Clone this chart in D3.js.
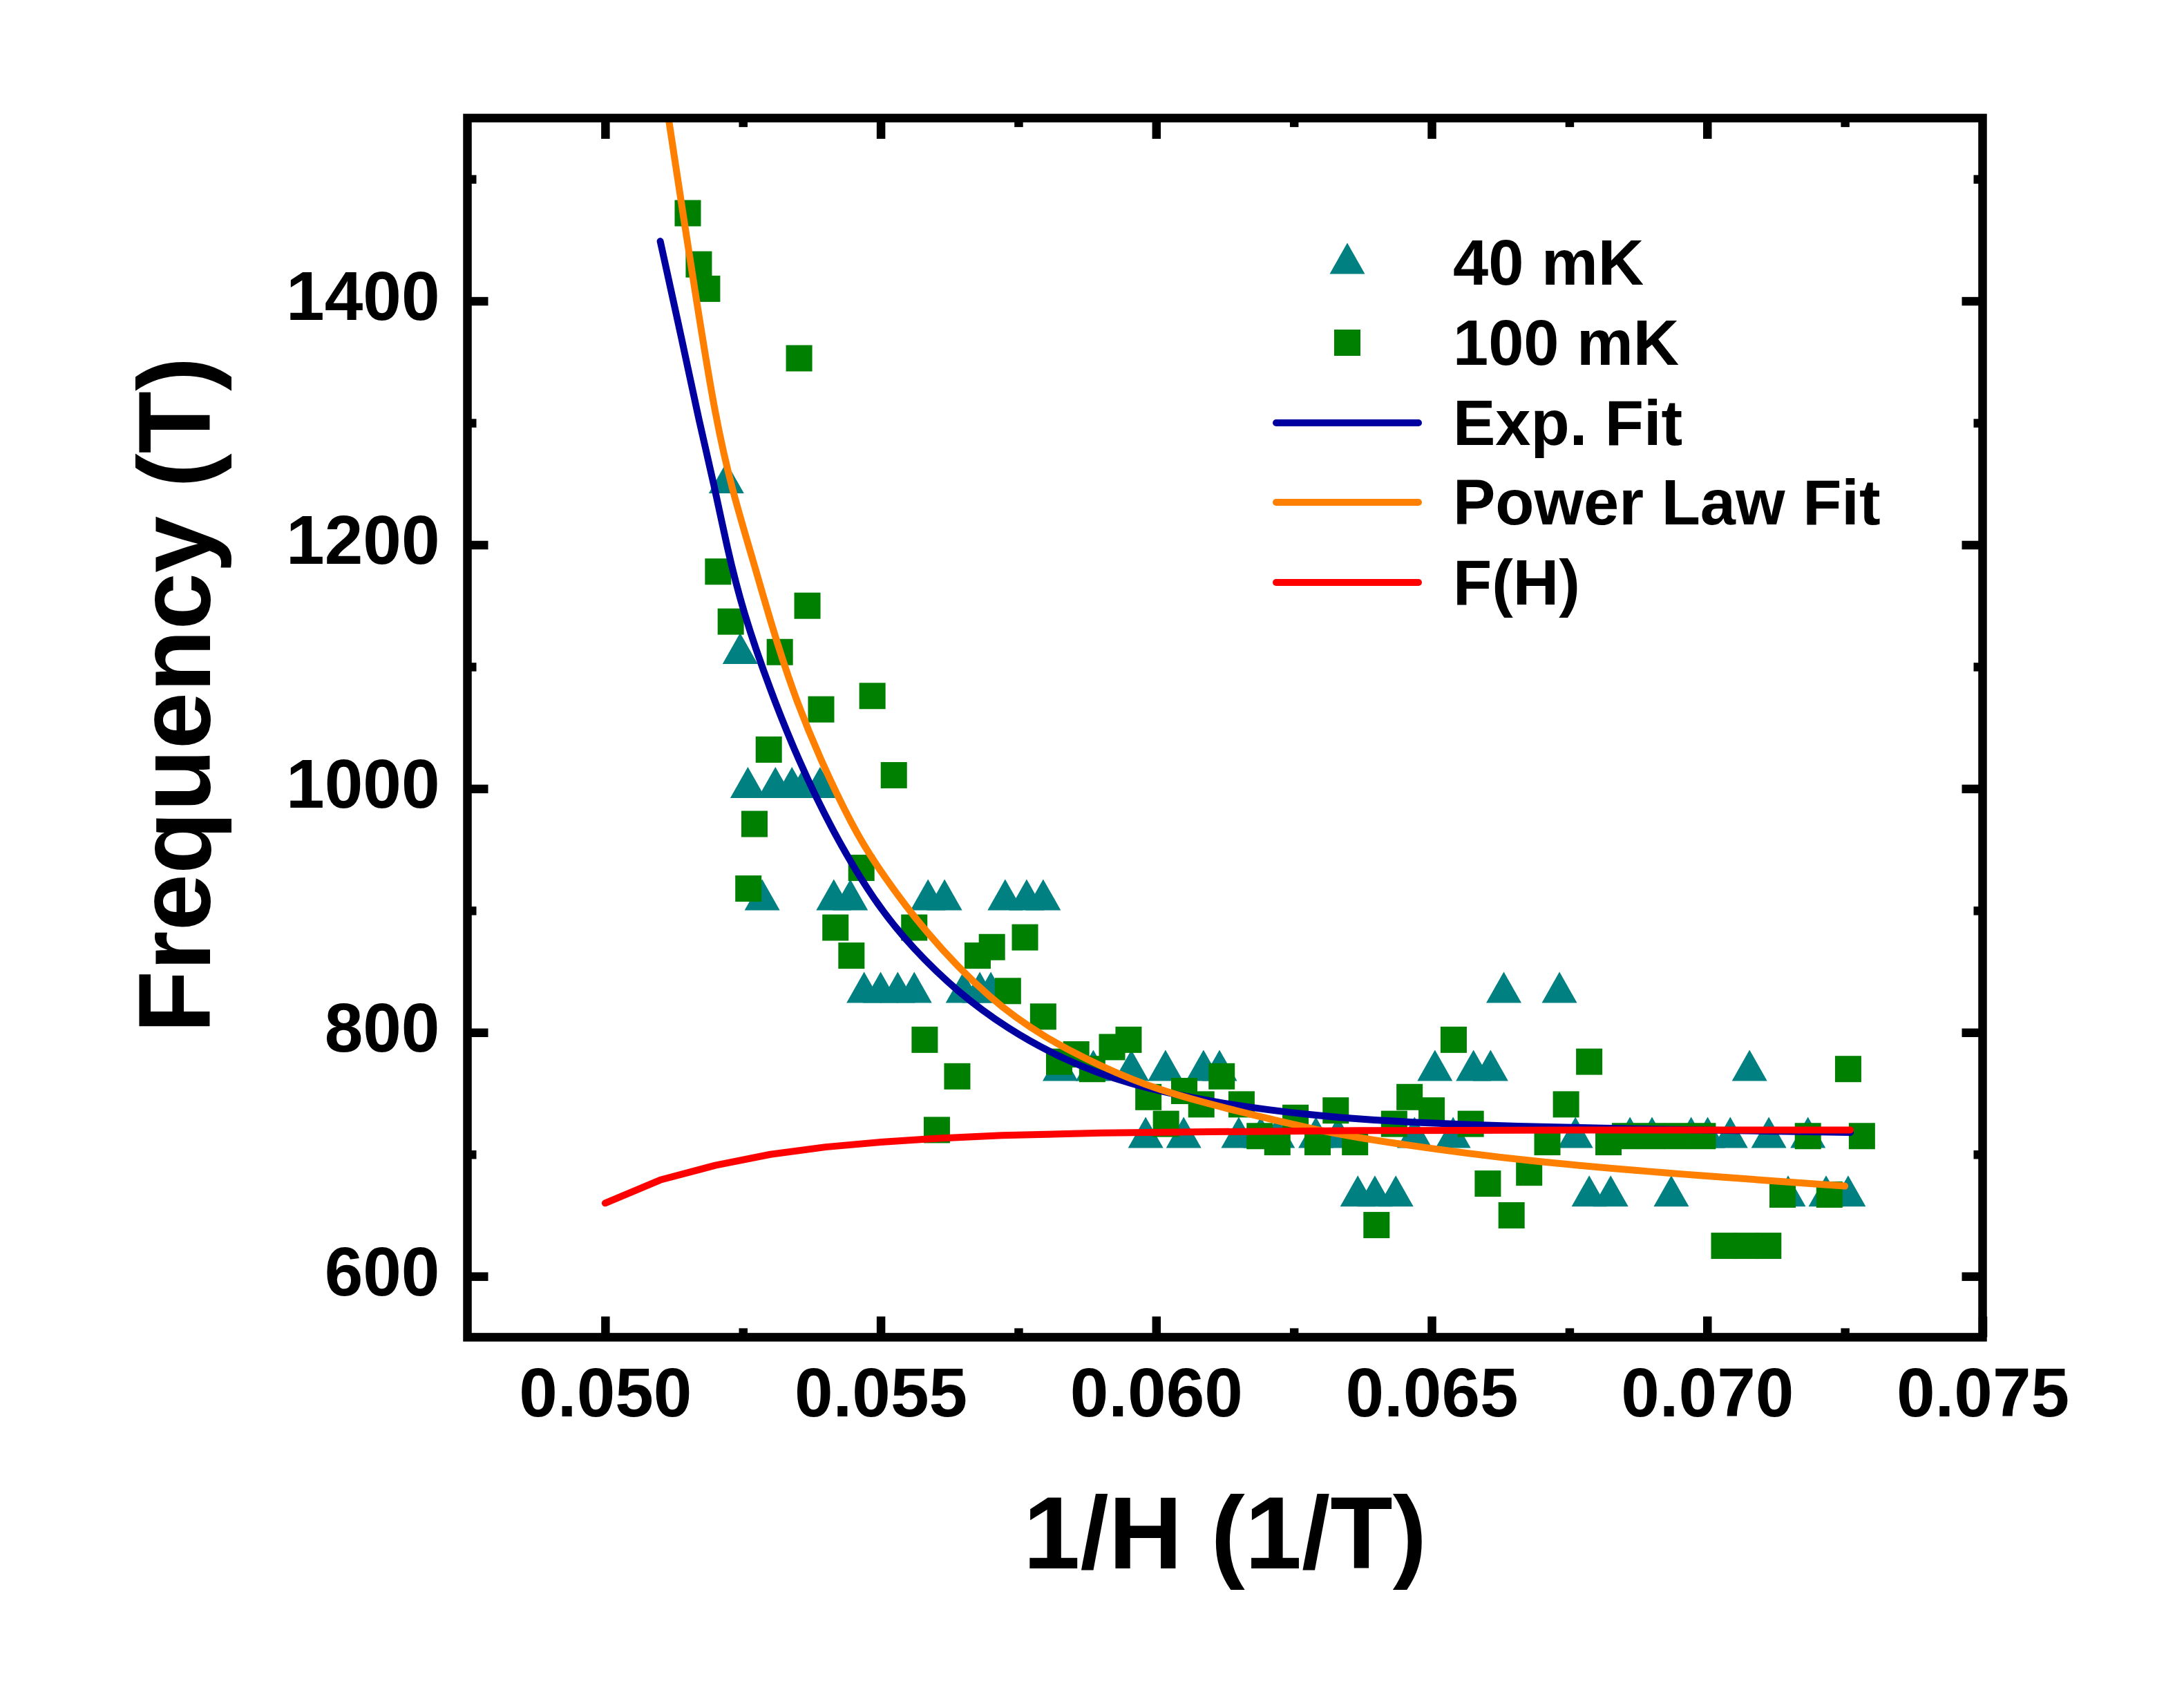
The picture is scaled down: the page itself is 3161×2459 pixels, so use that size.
<!DOCTYPE html>
<html>
<head>
<meta charset="utf-8">
<script src="https://cdn.jsdelivr.net/npm/d3@7"></script>
<style>
  body { margin: 0; background: #fff; }
  text { font-family: "Liberation Sans", Arial, sans-serif; font-weight: bold; }
</style>
</head>
<body>
<script>
// 40 mK points: [1/H, frequency]
const mK40 = [
  [0.0522, 1255], [0.05245, 1115], [0.05259, 1005], [0.05285, 913], [0.05309, 1005],
  [0.05339, 1005], [0.05361, 1005], [0.0539, 1005], [0.05415, 913], [0.05445, 913],
  [0.0547, 837], [0.0550, 837], [0.05531, 837], [0.05561, 837], [0.05586, 913],
  [0.05616, 913], [0.0565, 837], [0.0568, 837], [0.0570, 837], [0.05726, 913],
  [0.05765, 913], [0.05795, 913], [0.05826, 773], [0.05886, 773], [0.05955, 773],
  [0.05981, 718], [0.06017, 773], [0.0605, 718], [0.06086, 773], [0.06115, 773],
  [0.0615, 718], [0.0619, 718], [0.0622, 718], [0.0629, 718], [0.0633, 718],
  [0.06366, 670], [0.06397, 670], [0.06435, 670], [0.06469, 718], [0.06506, 773],
  [0.06539, 718], [0.06576, 773], [0.06607, 773], [0.06631, 837], [0.06732, 837],
  [0.06761, 718], [0.06786, 670], [0.06825, 670], [0.0686, 718], [0.069, 718],
  [0.06935, 670], [0.06971, 718], [0.07001, 718], [0.07042, 718], [0.07077, 773],
  [0.07112, 718], [0.07147, 670], [0.07183, 718], [0.07216, 670], [0.07256, 670]
];

// 100 mK points
const mK100 = [
  [0.0515, 1472], [0.0517, 1430], [0.05185, 1410], [0.05205, 1178], [0.05228, 1137],
  [0.0526, 918], [0.05271, 971], [0.05297, 1032], [0.05317, 1112], [0.05352, 1353],
  [0.05367, 1150], [0.05392, 1065], [0.05418, 886], [0.05447, 863], [0.05465, 935],
  [0.05485, 1076], [0.05524, 1011], [0.05561, 886], [0.0558, 794], [0.05602, 720],
  [0.05639, 764], [0.05676, 863], [0.05702, 870], [0.05731, 834], [0.05762, 878],
  [0.05795, 813], [0.05824, 776], [0.05855, 782], [0.05884, 770], [0.0592, 788],
  [0.0595, 794], [0.05986, 747], [0.06018, 725], [0.06051, 752], [0.06082, 741],
  [0.06119, 764], [0.06155, 741], [0.06188, 715], [0.0622, 710], [0.06253, 730],
  [0.06293, 710], [0.06326, 736], [0.06361, 710], [0.064, 642], [0.06432, 725],
  [0.0646, 747], [0.065, 736], [0.0654, 794], [0.06571, 725], [0.06602, 676],
  [0.06645, 650], [0.06677, 685], [0.0671, 710], [0.06744, 741], [0.06786, 776],
  [0.06821, 710], [0.06851, 715], [0.06898, 715], [0.06945, 715], [0.06992, 715],
  [0.07031, 625], [0.07071, 625], [0.07111, 625], [0.07137, 667], [0.07183, 715],
  [0.07222, 667], [0.07256, 770], [0.07281, 715]
];

// fit curves
const expFit = [
  [0.0510, 1449], [0.0514, 1367], [0.0517, 1302], [0.0520, 1245], [0.0522, 1200],
  [0.0525, 1145], [0.0530, 1080], [0.0535, 1024], [0.0541, 967], [0.0549, 906],
  [0.0556, 868], [0.0564, 833], [0.0573, 803], [0.0583, 778], [0.0595, 757],
  [0.0611, 742], [0.0628, 732], [0.0642, 727], [0.0669, 722], [0.0726, 718]
];
const powerFit = [
  [0.05115, 1550], [0.0514, 1475], [0.0517, 1388], [0.0520, 1305], [0.0523, 1245],
  [0.0527, 1185], [0.0530, 1137], [0.0534, 1080], [0.0539, 1024], [0.0545, 968],
  [0.0549, 938], [0.0558, 882], [0.0570, 826], [0.0580, 795], [0.0590, 772],
  [0.0600, 753], [0.0614, 736], [0.0630, 719], [0.0640, 711], [0.0667, 694],
  [0.0700, 682], [0.0725, 674]
];
const fH = [
  [0.0500, 660], [0.0510, 679], [0.0520, 691], [0.0530, 700], [0.0540, 706],
  [0.0550, 710], [0.0560, 713], [0.0572, 715.6], [0.0590, 717.5], [0.0610, 718.5],
  [0.0637, 719.5], [0.0680, 720], [0.0726, 720]
];

const xMajor = [0.050, 0.055, 0.060, 0.065, 0.070, 0.075];
const xMinor = [0.0525, 0.0575, 0.0625, 0.0675, 0.0725];
const yMajor = [600, 800, 1000, 1200, 1400];
const yMinor = [700, 900, 1100, 1300, 1500];
const legendNames = ["40 mK", "100 mK", "Exp. Fit", "Power Law Fit", "F(H)"];

const width = 3161;
const height = 2459;
const pLeft = 676.5, pRight = 2869.5, pTop = 170.9, pBottom = 1935.4;
const teal = "#008080", green = "#008000", navy = "#0000A0", orange = "#FF8000", red = "#FF0000";

const svg = d3.select("body")
    .append("svg")
    .attr("width", width)
    .attr("height", height);

const xScale = d3.scaleLinear().domain([0.0475, 0.075]).range([pLeft, pRight]);
const yScale = d3.scaleLinear().domain([550, 1550]).range([pBottom, pTop]);

svg.append("defs").append("clipPath").attr("id", "plotclip")
    .append("rect")
    .attr("x", pLeft).attr("y", pTop)
    .attr("width", pRight - pLeft).attr("height", pBottom - pTop);

const triPath = "M0,-22.5L25.5,22.5L-25.5,22.5Z";
const sq = 38;

// 40 mK triangles
svg.append("g")
    .selectAll("path")
    .data(mK40)
    .enter()
    .append("path")
    .attr("d", triPath)
    .attr("transform", d => "translate(" + xScale(d[0]) + "," + yScale(d[1]) + ")")
    .attr("fill", teal);

// 100 mK squares
svg.append("g")
    .selectAll("rect")
    .data(mK100)
    .enter()
    .append("rect")
    .attr("x", d => xScale(d[0]) - sq / 2)
    .attr("y", d => yScale(d[1]) - sq / 2)
    .attr("width", sq)
    .attr("height", sq)
    .attr("fill", green);

const smooth = d3.line()
    .x(d => xScale(d[0]))
    .y(d => yScale(d[1]))
    .curve(d3.curveBasis);
const straight = d3.line()
    .x(d => xScale(d[0]))
    .y(d => yScale(d[1]));

const curves = svg.append("g").attr("clip-path", "url(#plotclip)");
[[expFit, navy, smooth], [powerFit, orange, smooth], [fH, red, straight]].forEach(c => {
    curves.append("path")
        .attr("d", c[2](c[0]))
        .attr("fill", "none")
        .attr("stroke", c[1])
        .attr("stroke-width", 10)
        .attr("stroke-linecap", "round")
        .attr("stroke-linejoin", "round");
});

// axes, ticks pointing inward
const tickW = 12.5;
const styleAxis = g => {
    g.select(".domain").remove();
    g.selectAll(".tick line").attr("stroke", "#000").attr("stroke-width", tickW);
    g.selectAll(".tick text").attr("fill", "#000").style("font-size", "100px")
        .style("font-family", "'Liberation Sans', Arial, sans-serif").style("font-weight", "bold");
};

svg.append("g")
    .attr("transform", "translate(0," + pBottom + ")")
    .call(d3.axisBottom(xScale).tickValues(xMajor).tickSize(-30).tickPadding(44).tickFormat(d3.format(".3f")))
    .call(styleAxis);
svg.append("g")
    .attr("transform", "translate(0," + pBottom + ")")
    .call(d3.axisBottom(xScale).tickValues(xMinor).tickSize(-13).tickFormat(""))
    .call(styleAxis);
svg.append("g")
    .attr("transform", "translate(0," + pTop + ")")
    .call(d3.axisTop(xScale).tickValues(xMajor.slice(0, 5)).tickSize(-30).tickFormat(""))
    .call(styleAxis);
svg.append("g")
    .attr("transform", "translate(0," + pTop + ")")
    .call(d3.axisTop(xScale).tickValues(xMinor).tickSize(-13).tickFormat(""))
    .call(styleAxis);

svg.append("g")
    .attr("transform", "translate(" + pLeft + ",0)")
    .call(d3.axisLeft(yScale).tickValues(yMajor).tickSize(-30).tickPadding(40).tickFormat(d3.format("d")))
    .call(styleAxis)
    .call(g => g.selectAll(".tick text").attr("dy", "0.27em"));
svg.append("g")
    .attr("transform", "translate(" + pLeft + ",0)")
    .call(d3.axisLeft(yScale).tickValues(yMinor).tickSize(-13).tickFormat(""))
    .call(styleAxis);
svg.append("g")
    .attr("transform", "translate(" + pRight + ",0)")
    .call(d3.axisRight(yScale).tickValues(yMajor).tickSize(-30).tickFormat(""))
    .call(styleAxis);
svg.append("g")
    .attr("transform", "translate(" + pRight + ",0)")
    .call(d3.axisRight(yScale).tickValues(yMinor).tickSize(-13).tickFormat(""))
    .call(styleAxis);

// frame
svg.append("rect")
    .attr("x", pLeft).attr("y", pTop)
    .attr("width", pRight - pLeft).attr("height", pBottom - pTop)
    .attr("fill", "none")
    .attr("stroke", "#000")
    .attr("stroke-width", tickW);

// axis titles
svg.append("text")
    .attr("x", (pLeft + pRight) / 2)
    .attr("y", 2270)
    .attr("text-anchor", "middle")
    .style("font-size", "148px")
    .text("1/H (1/T)");

svg.append("text")
    .attr("transform", "translate(304,1006) rotate(-90)")
    .attr("text-anchor", "middle")
    .style("font-size", "148px")
    .text("Frequency (T)");

// legend
const leg = svg.append("g");
const rowBase = [412, 528, 644, 759, 875];
leg.append("path").attr("d", triPath).attr("transform", "translate(1950,374)").attr("fill", teal);
leg.append("rect").attr("x", 1950 - sq / 2).attr("y", 496 - sq / 2).attr("width", sq).attr("height", sq).attr("fill", green);
[navy, orange, red].forEach((c, i) => {
    leg.append("line")
        .attr("x1", 1847).attr("x2", 2053)
        .attr("y1", rowBase[i + 2] - 32).attr("y2", rowBase[i + 2] - 32)
        .attr("stroke", c)
        .attr("stroke-width", 10)
        .attr("stroke-linecap", "round");
});
leg.selectAll("text")
    .data(legendNames)
    .enter()
    .append("text")
    .attr("x", 2103)
    .attr("y", (d, i) => rowBase[i])
    .style("font-size", "92px")
    .text(d => d);
</script>
</body>
</html>
